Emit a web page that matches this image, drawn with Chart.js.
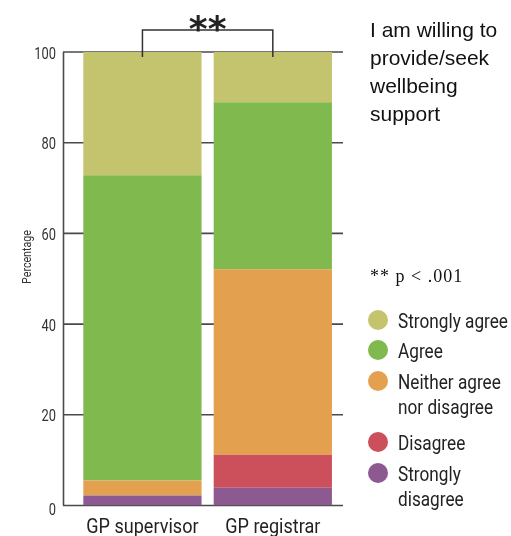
<!DOCTYPE html>
<html>
<head>
<meta charset="utf-8">
<script src="https://cdn.jsdelivr.net/npm/chart.js@4/dist/chart.umd.min.js"></script>
<style>
  html, body { margin: 0; padding: 0; background: #fff; }
  .chart-wrap { position: relative; width: 511px; height: 536px; }
</style>
</head>
<body>
<div class="chart-wrap"><canvas id="wellbeingChart"></canvas></div>
<script>
/* =========================================================
   Willingness to provide/seek wellbeing support
   Stacked 100% bars, supervisor vs registrar
   ========================================================= */

const groups = ['GP supervisor', 'GP registrar'];

// percentages, bottom of the stack first
const stronglyDisagree = [2.2, 3.9];
const disagree         = [0, 7.3];
const neither          = [3.3, 40.9];
const agree            = [67.3, 36.8];
const stronglyAgree    = [27.2, 11.1];

const yTicks = [0, 20, 40, 60, 80, 100];

const seriesNames  = ['Strongly disagree', 'Disagree', 'Neither agree nor disagree', 'Agree', 'Strongly agree'];
const legendLines  = [['Strongly', 'disagree'], ['Disagree'], ['Neither agree', 'nor disagree'], ['Agree'], ['Strongly agree']];
const seriesColors = ['#8c5a90', '#cb505b', '#e3a14f', '#80b94d', '#c4c46e'];

const series = [stronglyDisagree, disagree, neither, agree, stronglyAgree];

// no condensed face installed, so squeeze Roboto sideways
function narrowText(ctx, text, x, y, size, align, sx) {
  ctx.save();
  ctx.translate(x, y);
  ctx.scale(sx, 1);
  ctx.font = size + 'px Roboto, sans-serif';
  ctx.textAlign = align;
  ctx.fillText(text, 0, 0);
  ctx.restore();
}

// axis line, grid lines behind the bars, tick labels
const axisLines = {
  id: 'axisLines',
  beforeDatasetsDraw(chart) {
    const { ctx } = chart;
    const y = chart.scales.y, x = chart.scales.x;
    const x0 = 63, x1 = 343;
    ctx.save();
    ctx.strokeStyle = '#4a4a4a';
    ctx.lineWidth = 1.6;
    yTicks.forEach(v => {
      const py = y.getPixelForValue(v);
      ctx.beginPath();
      ctx.moveTo(x0, py);
      ctx.lineTo(x1, py);
      ctx.stroke();
    });
    ctx.beginPath();
    ctx.moveTo(x0 + 0.5, y.getPixelForValue(100));
    ctx.lineTo(x0 + 0.5, y.getPixelForValue(0));
    ctx.stroke();

    ctx.fillStyle = '#333';
    ctx.textBaseline = 'middle';
    yTicks.forEach(v => {
      narrowText(ctx, String(v), 56, y.getPixelForValue(v) + (v === 0 ? 5 : 2.5), 16.5, 'right', 0.78);
    });

    ctx.fillStyle = '#222';
    ctx.textBaseline = 'alphabetic';
    groups.forEach((g, i) => {
      narrowText(ctx, g, x.getPixelForValue(i), 533, 21, 'center', 0.86);
    });
    ctx.restore();
  }
};

// bracket, notes, side title and legend
const annotations = {
  id: 'annotations',
  afterDraw(chart) {
    const { ctx } = chart;
    const x = chart.scales.x, y = chart.scales.y;
    ctx.save();

    // significance bracket
    const bx0 = x.getPixelForValue(0), bx1 = x.getPixelForValue(1);
    const top = 30, low = y.getPixelForValue(100) + 5;
    ctx.strokeStyle = '#333';
    ctx.lineWidth = 1.5;
    ctx.beginPath();
    ctx.moveTo(bx0, low);
    ctx.lineTo(bx0, top);
    ctx.lineTo(bx1, top);
    ctx.lineTo(bx1, low);
    ctx.stroke();

    ctx.fillStyle = '#222';
    ctx.font = "bold 36px 'DejaVu Sans'";
    ctx.textAlign = 'center';
    ctx.textBaseline = 'alphabetic';
    ctx.fillText('**', (bx0 + bx1) / 2, 41);

    // y axis title
    ctx.save();
    ctx.translate(28, 257);
    ctx.rotate(-Math.PI / 2);
    ctx.fillStyle = '#333';
    ctx.textBaseline = 'middle';
    narrowText(ctx, 'Percentage', 0, 0, 13, 'center', 0.82);
    ctx.restore();

    // side title
    ctx.textAlign = 'left';
    ctx.fillStyle = '#111';
    ctx.font = "21px 'Liberation Sans', Arial, sans-serif";
    ['I am willing to', 'provide/seek', 'wellbeing', 'support'].forEach((t, i) => {
      ctx.fillText(t, 370, 37 + i * 28);
    });

    ctx.font = "18px 'Liberation Serif', 'Times New Roman', serif";
    ctx.letterSpacing = '1px';
    ctx.fillText('** p < .001', 370, 282);
    ctx.letterSpacing = '0px';

    // legend, top of the stack first
    const baselines = [328, 358, 389, 450, 481];
    for (let i = series.length - 1, k = 0; i >= 0; i--, k++) {
      const base = baselines[k];
      ctx.fillStyle = seriesColors[i];
      ctx.beginPath();
      ctx.arc(378, base - 8, 10, 0, Math.PI * 2);
      ctx.fill();
      ctx.fillStyle = '#222';
      legendLines[i].forEach((line, j) => narrowText(ctx, line, 398, base + j * 25, 20, 'left', 0.86));
    }

    ctx.restore();
  }
};

new Chart(document.getElementById('wellbeingChart'), {
  type: 'bar',
  data: {
    labels: groups,
    datasets: series.map((vals, i) => ({
      label: seriesNames[i],
      data: vals,
      backgroundColor: seriesColors[i],
      borderWidth: 0,
      barPercentage: 1,
      categoryPercentage: 0.907
    }))
  },
  options: {
    responsive: true,
    maintainAspectRatio: false,
    animation: false,
    layout: { padding: { left: 0, right: 173, top: 52, bottom: 0 } },
    plugins: { legend: { display: false }, tooltip: { enabled: false } },
    scales: {
      x: {
        stacked: true,
        grid: { display: false, drawTicks: false },
        border: { display: false },
        ticks: { display: false },
        afterFit: s => { s.height = 30.5; }
      },
      y: {
        stacked: true,
        min: 0,
        max: 100,
        afterBuildTicks: s => { s.ticks = yTicks.map(v => ({ value: v })); },
        grid: { display: false, drawTicks: false },
        border: { display: false },
        ticks: { display: false },
        afterFit: s => { s.width = 77.25; }
      }
    }
  },
  plugins: [axisLines, annotations]
});
</script>
</body>
</html>
